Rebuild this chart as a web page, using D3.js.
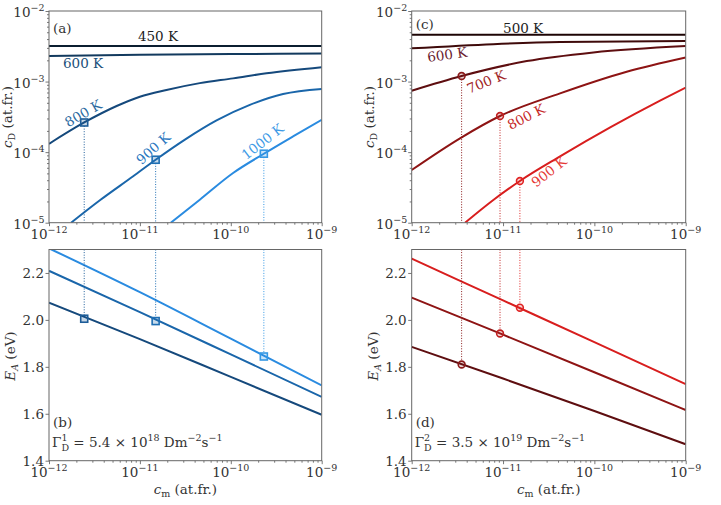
<!DOCTYPE html>
<html>
<head>
<meta charset="utf-8">
<script src="https://cdn.jsdelivr.net/npm/d3@7"></script>
<style>
body { margin: 0; background: #fff; }
svg text { fill: #333; }
</style>
</head>
<body>
<svg id="fig" width="721" height="505"></svg>
<script>
// ---- data ----
const cmTicks = [1e-12, 1e-11, 1e-10, 1e-9];
const cdTicks = [1e-5, 1e-4, 1e-3, 1e-2];
const eaTicks = [1.4, 1.6, 1.8, 2.0, 2.2];

// panel (a): c_D vs c_m, Gamma 1
const tempsA = ["450 K", "600 K", "800 K", "900 K", "1000 K"];
const colorsA = ["#0b1e30", "#123a5e", "#15497c", "#1a66aa", "#2a8be0"];
const cmA450 = [1e-12, 1e-9];
const cdA450 = [3.2e-3, 3.2e-3];
const cmA600 = [1e-12, 1e-11, 1e-10, 1e-9];
const cdA600 = [2.3e-3, 2.4e-3, 2.45e-3, 2.5e-3];
const cmA800 = [1e-12, 2.44e-12, 5.55e-12, 1e-11, 1.96e-11, 4.56e-11, 1.06e-10, 2.47e-10, 1e-9];
const cdA800 = [1.31e-4, 2.63e-4, 4.5e-4, 6.1e-4, 7.6e-4, 9.5e-4, 1.11e-3, 1.31e-3, 1.6e-3];
const cmA900 = [1.75e-12, 3.63e-12, 8.43e-12, 1.49e-11, 3.16e-11, 6.97e-11, 1.62e-10, 3.76e-10, 1e-9];
const cdA900 = [1e-5, 2.08e-5, 4.55e-5, 7.8e-5, 1.52e-4, 2.82e-4, 4.68e-4, 6.67e-4, 7.87e-4];
const cmA1000 = [2.19e-11, 4.56e-11, 1.06e-10, 2.31e-10, 4.84e-10, 1e-9];
const cdA1000 = [1e-5, 2.12e-5, 5.06e-5, 9.48e-5, 1.67e-4, 2.87e-4];
const markA_cm = [2.44e-12, 1.49e-11, 2.31e-10];
const markA_cd = [2.63e-4, 7.8e-5, 9.5e-5];
const markA_col = ["#1c5c98", "#1f6fb3", "#3598e4"];
const labA_cm = [1.58e-11, 2.37e-12, 2.38e-12, 1.4e-11, 2.23e-10];
const labA_cd = [4.43e-3, 1.81e-3, 3.57e-4, 1.14e-4, 1.42e-4];
const labA_rot = [0, 0, -30, -42, -38];
const labA_col = ["#222222", "#1b4f7a", "#2d6aa0", "#2b78c0", "#3d9ae6"];

// panel (b): E_A vs c_m
const eaB800 = [2.073, 1.918, 1.757, 1.596];
const eaB900 = [2.209, 2.033, 1.853, 1.672];
const eaB1000 = [2.305, 2.118, 1.92, 1.721];
const markB_ea = [2.005, 1.995, 1.844];

// panel (c): c_D vs c_m, Gamma 2
const tempsC = ["500 K", "600 K", "700 K", "800 K", "900 K"];
const colorsC = ["#1c0404", "#3e0a0a", "#5e0e10", "#8e1414", "#d81e1e"];
const cmC500 = [1e-12, 1e-9];
const cdC500 = [4.6e-3, 4.6e-3];
const cmC600 = [1e-12, 7.83e-12, 4.21e-11, 1e-9];
const cdC600 = [2.96e-3, 3.39e-3, 3.63e-3, 3.76e-3];
const cmC700 = [1e-12, 3.52e-12, 1.82e-11, 9.75e-11, 1e-9];
const cdC700 = [7.43e-4, 1.2e-3, 1.95e-3, 2.59e-3, 3.19e-3];
const cmC800 = [1e-12, 3.38e-12, 9.27e-12, 4.21e-11, 2.26e-10, 1e-9];
const cdC800 = [5.58e-5, 1.57e-4, 3.25e-4, 6.81e-4, 1.38e-3, 2.2e-3];
const cmC900 = [3.84e-12, 7.83e-12, 1.53e-11, 4.21e-11, 1.49e-10, 5.24e-10, 1e-9];
const cdC900 = [1e-5, 2.1e-5, 3.9e-5, 8.7e-5, 2.24e-4, 5.37e-4, 8.2e-4];
const markC_cm = [3.52e-12, 9.27e-12, 1.53e-11];
const markC_cd = [1.2e-3, 3.25e-4, 3.9e-5];
const markC_col = ["#8b1a1a", "#c02020", "#e02424"];
const labC_cm = [1.66e-11, 2.44e-12, 6.52e-12, 1.79e-11, 3.17e-11];
const labC_cd = [5.75e-3, 2.43e-3, 1.0e-3, 3.2e-4, 5.33e-5];
const labC_rot = [0, -8, -22, -27, -38];
const labC_col = ["#222222", "#6a1b2e", "#a01d24", "#c62828", "#e53935"];

// panel (d): E_A vs c_m
const eaD700 = [1.885, 1.750, 1.612, 1.470];
const eaD800 = [2.095, 1.937, 1.777, 1.616];
const eaD900 = [2.261, 2.083, 1.905, 1.726];
const markD_ea = [1.81, 1.942, 2.052];

// ---- drawing ----
const svg = d3.select("#fig");
const FONT = "'DejaVu Serif', serif";
const fs = 13.5;
const sup = 9.5;

function txt(parent) {
    return parent.append("text").style("font-family", FONT);
}

function pow10(t, exp) {
    t.append("tspan").text("10");
    t.append("tspan").attr("dy", -6).attr("font-size", sup).text("\u2212" + Math.abs(exp));
}

function minorLog(lo, hi) {
    var out = [];
    for (var e = lo; e < hi; e++)
        for (var m = 2; m <= 9; m++) out.push(m * Math.pow(10, e));
    return out;
}

function frame(box, id, logY) {
    var g = svg.append("g");
    var x = d3.scaleLog().domain([1e-12, 1e-9]).range([box.x0, box.x1]);
    var y = logY ? d3.scaleLog().domain([1e-5, 1e-2]).range([box.y1, box.y0])
                 : d3.scaleLinear().domain([1.4, 2.3]).range([box.y1, box.y0]);

    svg.append("clipPath").attr("id", "clip" + id)
        .append("rect").attr("x", box.x0).attr("y", box.y0)
        .attr("width", box.x1 - box.x0).attr("height", box.y1 - box.y0);

    // ticks
    g.append("g").attr("transform", `translate(0,${box.y1})`)
        .call(d3.axisBottom(x).tickValues(cmTicks).tickSize(3.5).tickFormat(""));
    g.append("g").attr("transform", `translate(0,${box.y1})`)
        .call(d3.axisBottom(x).tickValues(minorLog(-12, -9)).tickSize(2).tickFormat(""));
    g.append("g").attr("transform", `translate(${box.x0},0)`)
        .call(d3.axisLeft(y).tickValues(logY ? cdTicks : eaTicks).tickSize(3.5).tickFormat(""));
    if (logY) {
        g.append("g").attr("transform", `translate(${box.x0},0)`)
            .call(d3.axisLeft(y).tickValues(minorLog(-5, -2)).tickSize(2).tickFormat(""));
    }
    g.selectAll(".domain").remove();
    g.selectAll(".tick line").attr("stroke", "#555").attr("stroke-width", 0.8);

    // tick labels
    cmTicks.forEach(function (v) {
        var t = txt(g).attr("x", x(v)).attr("y", box.y1 + 16)
            .attr("text-anchor", "middle").attr("font-size", fs);
        pow10(t, Math.round(Math.log10(v)));
    });
    if (logY) {
        cdTicks.forEach(function (v) {
            var t = txt(g).attr("x", box.x0 - 4.5).attr("y", y(v) + 6)
                .attr("text-anchor", "end").attr("font-size", fs);
            pow10(t, Math.round(Math.log10(v)));
        });
    } else {
        eaTicks.forEach(function (v) {
            txt(g).attr("x", box.x0 - 5).attr("y", y(v) + 5)
                .attr("text-anchor", "end").attr("font-size", fs).text(v.toFixed(1));
        });
    }
    return { g: g, x: x, y: y, box: box, id: id };
}

function border(p) {
    p.g.append("rect").attr("x", p.box.x0).attr("y", p.box.y0)
        .attr("width", p.box.x1 - p.box.x0).attr("height", p.box.y1 - p.box.y0)
        .attr("fill", "none").attr("stroke", "#666").attr("stroke-width", 1);
}

function curve(p, xs, ys, color) {
    var pts = xs.map((d, i) => [d, ys[i]]);
    p.g.append("path").datum(pts)
        .attr("clip-path", `url(#clip${p.id})`)
        .attr("fill", "none").attr("stroke", color).attr("stroke-width", 2)
        .attr("d", d3.line().x(d => p.x(d[0])).y(d => p.y(d[1])).curve(d3.curveMonotoneX));
}

function dropLine(p, xv, yFrom, yTo, color) {
    p.g.append("line").attr("x1", p.x(xv)).attr("x2", p.x(xv))
        .attr("y1", yFrom).attr("y2", yTo)
        .attr("stroke", color).attr("stroke-width", 1).attr("stroke-dasharray", "1,1.6");
}

function squares(p, xs, ys, cols) {
    p.g.selectAll(null).data(xs).enter().append("rect")
        .attr("x", d => p.x(d) - 3.5).attr("y", (d, i) => p.y(ys[i]) - 3.5)
        .attr("width", 7).attr("height", 7)
        .attr("fill", (d, i) => cols[i]).attr("fill-opacity", 0.25)
        .attr("stroke", (d, i) => cols[i]).attr("stroke-width", 1.6);
}

function circles(p, xs, ys, cols) {
    p.g.selectAll(null).data(xs).enter().append("circle")
        .attr("cx", d => p.x(d)).attr("cy", (d, i) => p.y(ys[i])).attr("r", 3.4)
        .attr("fill", (d, i) => cols[i]).attr("fill-opacity", 0.2)
        .attr("stroke", (d, i) => cols[i]).attr("stroke-width", 1.6);
}

function tempLabels(p, names, xs, ys, rots, cols) {
    names.forEach(function (n, i) {
        txt(p.g)
            .attr("transform", `translate(${p.x(xs[i])},${p.y(ys[i])}) rotate(${rots[i]})`)
            .attr("text-anchor", "middle").attr("dominant-baseline", "central")
            .attr("font-size", fs).style("fill", cols[i]).text(n);
    });
}

function yLabel(cx, cy, main, sub, subItalic, rest) {
    var t = txt(svg).attr("transform", `translate(${cx},${cy}) rotate(-90)`)
        .attr("text-anchor", "middle").attr("font-size", fs);
    t.append("tspan").attr("font-style", "italic").text(main);
    t.append("tspan").attr("font-size", sup).attr("font-style", subItalic ? "italic" : "normal")
        .attr("dy", 3).text(sub);
    t.append("tspan").attr("dy", -3).text(rest);
}

function xLabelCM(cx, y) {
    var t = txt(svg).attr("x", cx).attr("y", y)
        .attr("text-anchor", "middle").attr("font-size", fs);
    t.append("tspan").attr("font-style", "italic").text("c");
    t.append("tspan").attr("font-size", sup).attr("dy", 3).text("m");
    t.append("tspan").attr("dy", -3).text(" (at.fr.)");
}

function gammaText(x, y, idx, mant, exp) {
    var t = txt(svg).attr("x", x).attr("y", y).attr("font-size", fs);
    t.append("tspan").text("\u0393");
    t.append("tspan").attr("font-size", sup).attr("dy", -6).text(idx);
    t.append("tspan").attr("font-size", sup).attr("dx", -6).attr("dy", 10).text("D");
    t.append("tspan").attr("dy", -4).text(" = " + mant + " \u00d7 10");
    t.append("tspan").attr("font-size", sup).attr("dy", -6).text(exp);
    t.append("tspan").attr("dy", 6).text(" Dm");
    t.append("tspan").attr("font-size", sup).attr("dy", -6).text("\u22122");
    t.append("tspan").attr("dy", 6).text("s");
    t.append("tspan").attr("font-size", sup).attr("dy", -6).text("\u22121");
}

const boxA = { x0: 49, x1: 321.7, y0: 11, y1: 222.7 };
const boxB = { x0: 49, x1: 321.7, y0: 249.5, y1: 460.7 };
const boxC = { x0: 411.7, x1: 685.7, y0: 11, y1: 222.7 };
const boxD = { x0: 411.7, x1: 685.7, y0: 249.5, y1: 460.7 };

// panel a
var pa = frame(boxA, "a", true);
[[cmA450, cdA450], [cmA600, cdA600], [cmA800, cdA800], [cmA900, cdA900], [cmA1000, cdA1000]]
    .forEach((s, i) => curve(pa, s[0], s[1], colorsA[i]));
markA_cm.forEach((v, i) => dropLine(pa, v, pa.y(markA_cd[i]) + 3.5, boxA.y1, markA_col[i]));
squares(pa, markA_cm, markA_cd, markA_col);
tempLabels(pa, tempsA, labA_cm, labA_cd, labA_rot, labA_col);
border(pa);
txt(pa.g).attr("x", boxA.x0 + 4).attr("y", boxA.y0 + 22).attr("font-size", fs).text("(a)");

// panel b
var pb = frame(boxB, "b", false);
[eaB800, eaB900, eaB1000].forEach((s, i) => curve(pb, cmTicks, s, colorsA[i + 2]));
markA_cm.forEach((v, i) => dropLine(pb, v, boxB.y0, pb.y(markB_ea[i]) - 3.5, markA_col[i]));
squares(pb, markA_cm, markB_ea, markA_col);
border(pb);
txt(pb.g).attr("x", boxB.x0 + 4).attr("y", boxB.y1 - 34).attr("font-size", fs).text("(b)");
gammaText(boxB.x0 + 3, boxB.y1 - 14, "1", "5.4", "18");

// panel c
var pc = frame(boxC, "c", true);
[[cmC500, cdC500], [cmC600, cdC600], [cmC700, cdC700], [cmC800, cdC800], [cmC900, cdC900]]
    .forEach((s, i) => curve(pc, s[0], s[1], colorsC[i]));
markC_cm.forEach((v, i) => dropLine(pc, v, pc.y(markC_cd[i]) + 3.4, boxC.y1, markC_col[i]));
circles(pc, markC_cm, markC_cd, markC_col);
tempLabels(pc, tempsC, labC_cm, labC_cd, labC_rot, labC_col);
border(pc);
txt(pc.g).attr("x", boxC.x0 + 4).attr("y", boxC.y0 + 18).attr("font-size", fs).text("(c)");

// panel d
var pd = frame(boxD, "d", false);
[eaD700, eaD800, eaD900].forEach((s, i) => curve(pd, cmTicks, s, colorsC[i + 2]));
markC_cm.forEach((v, i) => dropLine(pd, v, boxD.y0, pd.y(markD_ea[i]) - 3.4, markC_col[i]));
circles(pd, markC_cm, markD_ea, markC_col);
border(pd);
txt(pd.g).attr("x", boxD.x0 + 4).attr("y", boxD.y1 - 34).attr("font-size", fs).text("(d)");
gammaText(boxD.x0 + 3, boxD.y1 - 14, "2", "3.5", "19");

// axis titles
yLabel(12, 117, "c", "D", false, " (at.fr.)");
yLabel(374, 117, "c", "D", false, " (at.fr.)");
yLabel(15, 356, "E", "A", true, " (eV)");
yLabel(378, 356, "E", "A", true, " (eV)");
xLabelCM((boxB.x0 + boxB.x1) / 2, 494);
xLabelCM((boxD.x0 + boxD.x1) / 2, 494);
</script>
</body>
</html>
